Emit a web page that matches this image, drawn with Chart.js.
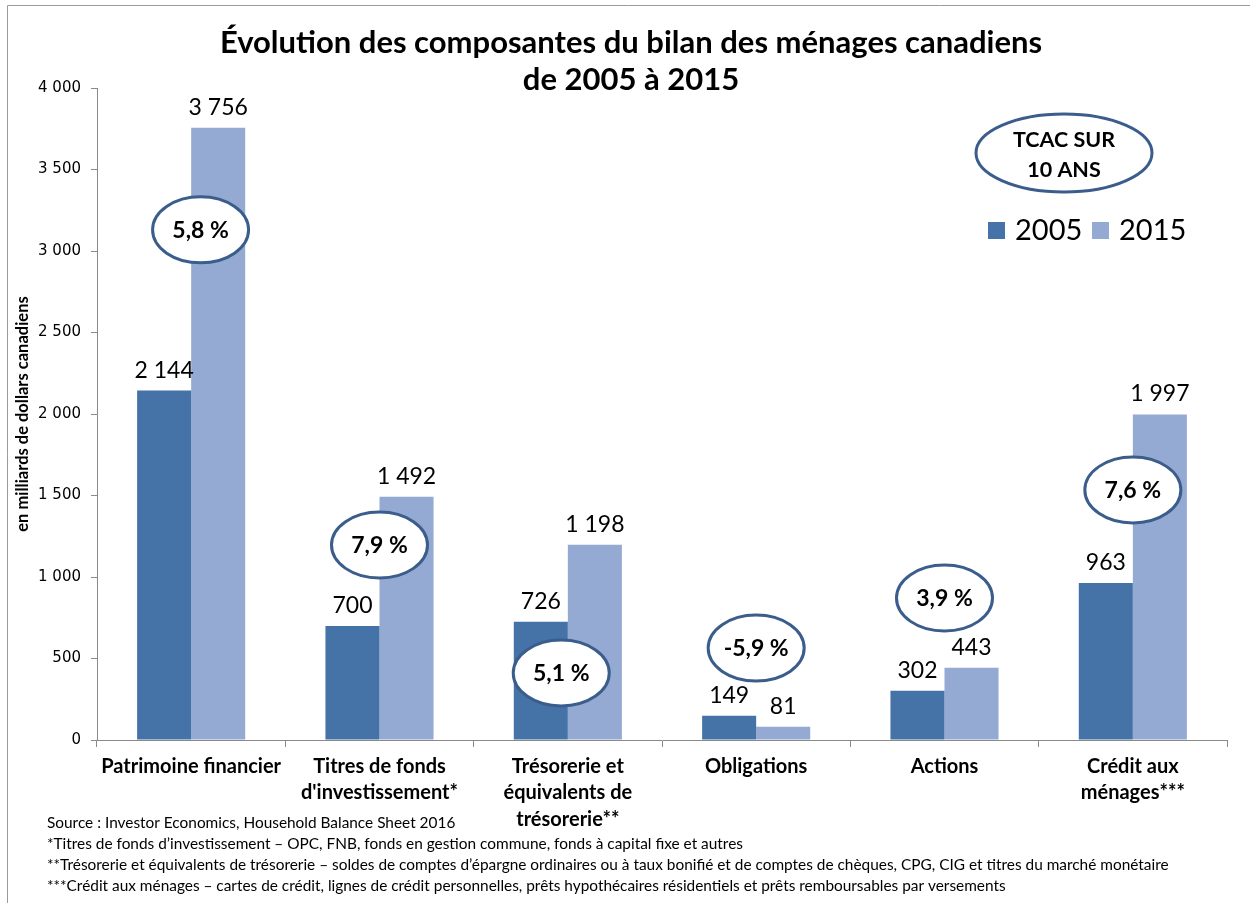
<!DOCTYPE html>
<html>
<head>
<meta charset="utf-8">
<script src="https://cdn.jsdelivr.net/npm/chart.js@4/dist/chart.umd.min.js"></script>
<style>
  html, body { margin: 0; padding: 0; background: #fff; }
  #wrap { width: 1250px; height: 903px; position: relative; }
</style>
</head>
<body>
<div id="wrap"><canvas id="bilan"></canvas></div>
<script>
// data (milliards $ CA)
const categories = [
    ['Patrimoine financier'],
    ['Titres de fonds', "d'investissement*"],
    ['Trésorerie et', 'équivalents de', 'trésorerie**'],
    ['Obligations'],
    ['Actions'],
    ['Crédit aux', 'ménages***']
];
const years = ['2005', '2015'];
const values2005 = [2144, 700, 726, 149, 302, 963];
const values2015 = [3756, 1492, 1198, 81, 443, 1997];
const tcac = ['5,8 %', '7,9 %', '5,1 %', '-5,9 %', '3,9 %', '7,6 %'];
const yTicks = [0, 500, 1000, 1500, 2000, 2500, 3000, 3500, 4000];

const footnotes = [
    'Source : Investor Economics, Household Balance Sheet 2016',
    '*Titres de fonds d\u2019investissement \u2013 OPC, FNB, fonds en gestion commune, fonds à capital fixe et autres',
    '**Trésorerie et équivalents de trésorerie \u2013 soldes de comptes d\u2019épargne ordinaires ou à taux bonifié et de comptes de chèques, CPG, CIG et titres du marché monétaire',
    '***Crédit aux ménages \u2013 cartes de crédit, lignes de crédit personnelles, prêts hypothécaires résidentiels et prêts remboursables par versements'
];

const dark = '#4572a7';
const light = '#95aad3';
const ringColor = '#3b5d8c';
const axisColor = '#8a8a8a';
const calibri = 'Lato, "Open Sans", sans-serif';

// where each TCAC bubble sits (value on y scale, shift as part of category width)
const bubbleAt = [3130, 1196, 411, 564, 871, 1534];
const bubbleShift = [0.05, 0, -0.035, 0, 0, 0];

function fmt(v) {
    return String(v).replace(/\B(?=(\d{3})+(?!\d))/g, ' ');
}

function ellipse(ctx, cx, cy, rx, ry) {
    ctx.beginPath();
    ctx.ellipse(cx, cy, rx, ry, 0, 0, Math.PI * 2);
    ctx.fillStyle = '#fff';
    ctx.fill();
    ctx.lineWidth = 3;
    ctx.strokeStyle = ringColor;
    ctx.stroke();
}

const decorations = {
    id: 'decorations',
    beforeDraw(chart) {
        const ctx = chart.ctx;
        ctx.save();
        ctx.fillStyle = '#fff';
        ctx.fillRect(0, 0, chart.width, chart.height);
        ctx.restore();
    },
    afterDatasetsDraw(chart) {
        const ctx = chart.ctx;
        ctx.save();
        ctx.font = '23px ' + calibri;
        ctx.fillStyle = '#000';
        ctx.textAlign = 'center';
        ctx.textBaseline = 'alphabetic';
        chart.data.datasets.forEach((ds, i) => {
            chart.getDatasetMeta(i).data.forEach((bar, j) => {
                ctx.fillText(fmt(ds.data[j]), bar.x, bar.y - 13);
            });
        });
        ctx.restore();
    },
    afterDraw(chart) {
        const ctx = chart.ctx;
        const x = chart.scales.x, y = chart.scales.y;
        const area = chart.chartArea;
        const catW = (area.right - area.left) / categories.length;
        ctx.save();

        // title
        ctx.fillStyle = '#000';
        ctx.textAlign = 'center';
        ctx.textBaseline = 'middle';
        ctx.font = 'bold 31px ' + calibri;
        ctx.fillText('Évolution des composantes du bilan des ménages canadiens', 631, 43);
        ctx.fillText('de 2005 à 2015', 631, 80);

        // y axis title
        ctx.save();
        ctx.translate(23, (area.top + area.bottom) / 2);
        ctx.rotate(-Math.PI / 2);
        ctx.font = 'bold 16.5px ' + calibri;
        ctx.fillText('en milliards de dollars canadiens', 0, 0);
        ctx.restore();

        // TCAC bubbles
        tcac.forEach((t, i) => {
            const cx = x.getPixelForValue(i) + bubbleShift[i] * catW;
            const cy = y.getPixelForValue(bubbleAt[i]);
            ellipse(ctx, cx, cy, 48, 33);
            ctx.fillStyle = '#000';
            ctx.font = 'bold 23px ' + calibri;
            ctx.fillText(t, cx, cy + 1);
        });

        // TCAC header bubble
        ellipse(ctx, 1064, 153, 88, 39);
        ctx.fillStyle = '#000';
        ctx.font = 'bold 21.5px ' + calibri;
        ctx.fillText('TCAC SUR', 1064, 140);
        ctx.fillText('10 ANS', 1064, 170);

        // legend
        const colors = [dark, light];
        let lx = 988;
        ctx.font = '29px ' + calibri;
        ctx.textAlign = 'left';
        years.forEach((yr, i) => {
            ctx.fillStyle = colors[i];
            ctx.fillRect(lx, 222, 17, 17);
            ctx.fillStyle = '#000';
            ctx.fillText(yr, lx + 27, 231);
            lx += 104;
        });

        // footnotes
        ctx.font = '15.4px ' + calibri;
        footnotes.forEach((f, i) => {
            ctx.fillText(f, 47, 823 + i * 21);
        });

        // outer frame
        ctx.strokeStyle = '#9a9a9a';
        ctx.lineWidth = 1;
        ctx.beginPath();
        ctx.moveTo(7.5, chart.height);
        ctx.lineTo(7.5, 5.5);
        ctx.lineTo(chart.width, 5.5);
        ctx.stroke();
        ctx.restore();
    }
};

new Chart(document.getElementById('bilan'), {
    type: 'bar',
    data: {
        labels: categories,
        datasets: [
            { label: years[0], data: values2005, backgroundColor: dark },
            { label: years[1], data: values2015, backgroundColor: light }
        ]
    },
    plugins: [decorations],
    options: {
        responsive: true,
        maintainAspectRatio: false,
        animation: false,
        layout: { padding: { top: 88, right: 23, left: 0, bottom: 0 } },
        plugins: {
            legend: { display: false },
            tooltip: { enabled: false }
        },
        datasets: {
            bar: { categoryPercentage: 0.574, barPercentage: 1 }
        },
        scales: {
            x: {
                grid: {
                    drawOnChartArea: false,
                    drawTicks: true,
                    tickLength: 7,
                    color: axisColor,
                    offset: true
                },
                border: { color: axisColor, width: 1 },
                ticks: {
                    color: '#000',
                    font: { family: calibri, size: 20, weight: 'bold', lineHeight: 1.33 },
                    padding: 6,
                    maxRotation: 0,
                    autoSkip: false
                },
                afterFit(scale) { scale.height = 163; }
            },
            y: {
                min: 0,
                max: 4000,
                afterBuildTicks(scale) { scale.ticks = yTicks.map(v => ({ value: v })); },
                grid: {
                    drawOnChartArea: false,
                    drawTicks: true,
                    tickLength: 6,
                    color: axisColor
                },
                border: { color: axisColor, width: 1 },
                ticks: {
                    color: '#000',
                    font: { family: '"DejaVu Sans", sans-serif', size: 15 },
                    padding: 10,
                    callback: v => fmt(v)
                },
                afterFit(scale) { scale.width = 97; }
            }
        }
    }
});
</script>
</body>
</html>
